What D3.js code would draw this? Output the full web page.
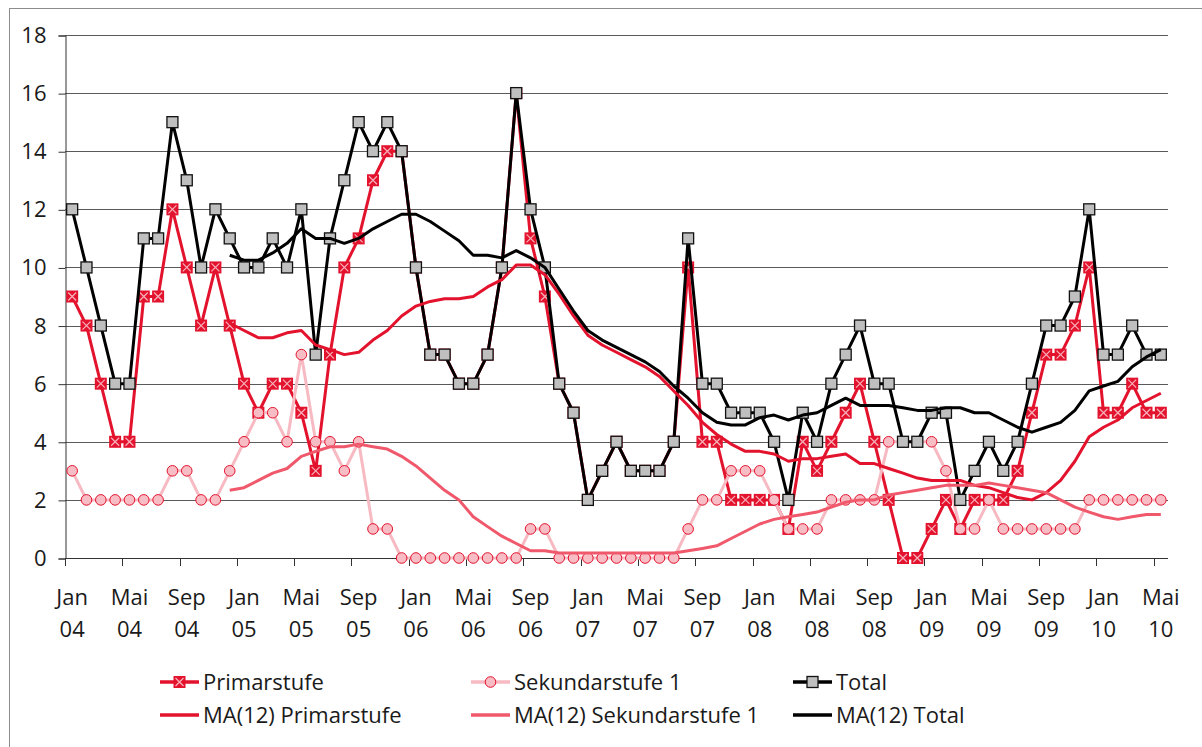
<!DOCTYPE html>
<html>
<head>
<meta charset="utf-8">
<script src="https://cdn.jsdelivr.net/npm/d3@7"></script>
<style>
  body { margin: 0; background: #fff; }
  svg text { font-family: "Open Sans", "Noto Sans", sans-serif; fill: #1a1a1a; }
</style>
</head>
<body>
<div id="chart"></div>
<script>
// monthly categories Jan 04 .. Mai 10
var months = ["Jan","Feb","Mär","Apr","Mai","Jun","Jul","Aug","Sep","Okt","Nov","Dez"];
var years = ["04","05","06","07","08","09","10"];
var nMonths = 77;

var primar = [9,8,6,4,4,9,9,12,10,8,10,8,
  6,5,6,6,5,3,7,10,11,13,14,14,
  10,7,7,6,6,7,10,16,11,9,6,5,
  2,3,4,3,3,3,4,10,4,4,2,2,
  2,2,1,4,3,4,5,6,4,2,0,0,
  1,2,1,2,2,2,3,5,7,7,8,10,
  5,5,6,5,5];
var sekundar = [3,2,2,2,2,2,2,3,3,2,2,3,
  4,5,5,4,7,4,4,3,4,1,1,0,
  0,0,0,0,0,0,0,0,1,1,0,0,
  0,0,0,0,0,0,0,1,2,2,3,3,
  3,2,1,1,1,2,2,2,2,4,4,4,
  4,3,1,1,2,1,1,1,1,1,1,2,
  2,2,2,2,2];
var total = [12,10,8,6,6,11,11,15,13,10,12,11,
  10,10,11,10,12,7,11,13,15,14,15,14,
  10,7,7,6,6,7,10,16,12,10,6,5,
  2,3,4,3,3,3,4,11,6,6,5,5,
  5,4,2,5,4,6,7,8,6,6,4,4,
  5,5,2,3,4,3,4,6,8,8,9,12,
  7,7,8,7,7];

var _ = null;
var maPrimar = [_,_,_,_,_,_,_,_,_,_,_,8.08,
  7.83,7.58,7.58,7.75,7.83,7.33,7.17,7.0,7.08,7.5,7.83,8.33,
  8.67,8.83,8.92,8.92,9.0,9.33,9.58,10.08,10.08,9.75,9.08,8.33,
  7.67,7.33,7.08,6.83,6.58,6.25,5.75,5.25,4.67,4.25,3.92,3.67,
  3.67,3.58,3.33,3.42,3.42,3.5,3.58,3.25,3.25,3.08,2.92,2.75,
  2.67,2.67,2.67,2.5,2.42,2.25,2.08,2.0,2.25,2.67,3.33,4.17,
  4.5,4.75,5.17,5.42,5.67];
var maSekundar = [_,_,_,_,_,_,_,_,_,_,_,2.33,
  2.42,2.67,2.92,3.08,3.5,3.67,3.83,3.83,3.92,3.83,3.75,3.5,
  3.17,2.75,2.33,2.0,1.42,1.08,0.75,0.5,0.25,0.25,0.17,0.17,
  0.17,0.17,0.17,0.17,0.17,0.17,0.17,0.25,0.33,0.42,0.67,0.92,
  1.17,1.33,1.42,1.5,1.58,1.75,1.92,2.0,2.0,2.17,2.25,2.33,
  2.42,2.5,2.5,2.5,2.58,2.5,2.42,2.33,2.25,2.0,1.75,1.58,
  1.42,1.33,1.42,1.5,1.5];
var maTotal = [_,_,_,_,_,_,_,_,_,_,_,10.42,
  10.25,10.25,10.5,10.83,11.33,11.0,11.0,10.83,11.0,11.33,11.58,11.83,
  11.83,11.58,11.25,10.92,10.42,10.42,10.33,10.58,10.33,10.0,9.25,8.5,
  7.83,7.5,7.25,7.0,6.75,6.42,5.92,5.5,5.0,4.67,4.58,4.58,
  4.83,4.92,4.75,4.92,5.0,5.25,5.5,5.25,5.25,5.25,5.17,5.08,
  5.08,5.17,5.17,5.0,5.0,4.75,4.5,4.33,4.5,4.67,5.08,5.75,
  5.92,6.08,6.58,6.92,7.17];

var yTicks = [0,2,4,6,8,10,12,14,16,18];

var categories = [];
for (var i = 0; i < nMonths; i++) {
  categories.push(months[i % 12] + " " + years[Math.floor(i / 12)]);
}

var colPrim = "#e3122d", colSek = "#f7b9c2", colMaSek = "#f0596b";
var fs = "22px";

var width = 1202, height = 747;
var svg = d3.select("#chart").append("svg")
  .attr("width", width).attr("height", height);

// outer frame of the chart area
svg.append("rect")
  .attr("x", 9.5).attr("y", 8.5)
  .attr("width", 1250).attr("height", 800)
  .attr("fill", "none").attr("stroke", "#8c8c8c").attr("stroke-width", 1);

var x = d3.scaleBand().domain(d3.range(nMonths)).range([65, 1168]);
var y = d3.scaleLinear().domain([0, 18]).range([558, 35]);
var cx = function(i) { return x(i) + x.bandwidth() / 2; };

// gridlines
svg.append("g").selectAll("line").data(yTicks.slice(1)).enter().append("line")
  .attr("x1", 65).attr("x2", 1168)
  .attr("y1", function(d) { return Math.round(y(d)) + 0.5; })
  .attr("y2", function(d) { return Math.round(y(d)) + 0.5; })
  .attr("stroke", "#5a5a5a").attr("stroke-width", 1);

// y axis
var yAxis = svg.append("g").attr("transform", "translate(65.5,0.5)")
  .call(d3.axisLeft(y).tickValues(yTicks).tickSize(7).tickPadding(12));
yAxis.selectAll("path, line").attr("stroke", "#333");
yAxis.selectAll("text").style("font-size", fs).attr("fill", "#1a1a1a");

// x axis: ticks on category boundaries every 4 months
var xg = svg.append("g");
xg.append("line").attr("x1", 65).attr("x2", 1168)
  .attr("y1", 558.5).attr("y2", 558.5).attr("stroke", "#333");
var tickIdx = d3.range(0, nMonths, 4);
xg.selectAll(".tk").data(tickIdx).enter().append("line")
  .attr("class", "tk")
  .attr("x1", function(d) { return Math.round(x(d)) + 0.5; })
  .attr("x2", function(d) { return Math.round(x(d)) + 0.5; })
  .attr("y1", 558).attr("y2", 566).attr("stroke", "#333");
var lbl = xg.selectAll(".lb").data(tickIdx).enter().append("text")
  .attr("class", "lb").attr("text-anchor", "middle")
  .style("font-size", fs);
lbl.append("tspan").attr("x", function(d) { return cx(d); }).attr("y", 605)
  .text(function(d) { return categories[d].split(" ")[0]; });
lbl.append("tspan").attr("x", function(d) { return cx(d); }).attr("y", 637)
  .text(function(d) { return categories[d].split(" ")[1]; });

var line = d3.line()
  .defined(function(d) { return d != null; })
  .x(function(d, i) { return cx(i); })
  .y(function(d) { return y(d); });

function drawLine(data, color, w) {
  svg.append("path").datum(data)
    .attr("d", line).attr("fill", "none")
    .attr("stroke", color).attr("stroke-width", w)
    .attr("stroke-linejoin", "round");
}

function primMarker(g, px, py) {
  g.append("rect").attr("x", px - 6).attr("y", py - 6)
    .attr("width", 12).attr("height", 12).attr("fill", colPrim);
  g.append("path")
    .attr("d", "M" + (px - 4) + "," + (py - 4) + "L" + (px + 4) + "," + (py + 4) +
      "M" + (px + 4) + "," + (py - 4) + "L" + (px - 4) + "," + (py + 4))
    .attr("stroke", "#f7b3bd").attr("stroke-width", 1.2);
}
function sekMarker(g, px, py) {
  g.append("circle").attr("cx", px).attr("cy", py).attr("r", 5.3)
    .attr("fill", "#f8bcc5").attr("stroke", colPrim).attr("stroke-width", 1);
}
function totMarker(g, px, py) {
  g.append("rect").attr("x", px - 5.5).attr("y", py - 5.5)
    .attr("width", 11).attr("height", 11)
    .attr("fill", "#bfbfbf").attr("stroke", "#111").attr("stroke-width", 1.3);
}

// Primarstufe
drawLine(primar, colPrim, 3);
var gp = svg.append("g");
primar.forEach(function(d, i) { primMarker(gp, cx(i), y(d)); });

// Sekundarstufe 1
drawLine(sekundar, colSek, 3);
var gs = svg.append("g");
sekundar.forEach(function(d, i) { sekMarker(gs, cx(i), y(d)); });

// Total
drawLine(total, "#000", 3);
var gt = svg.append("g");
total.forEach(function(d, i) { totMarker(gt, cx(i), y(d)); });

// moving averages
drawLine(maPrimar, colPrim, 3);
drawLine(maSekundar, colMaSek, 3);
drawLine(maTotal, "#000", 3);

// legend
var legend = [
  { name: "Primarstufe", x: 160, y: 682, color: colPrim, mk: primMarker },
  { name: "Sekundarstufe 1", x: 471, y: 682, color: colSek, mk: sekMarker },
  { name: "Total", x: 793, y: 682, color: "#000", mk: totMarker },
  { name: "MA(12) Primarstufe", x: 160, y: 715, color: colPrim, mk: null },
  { name: "MA(12) Sekundarstufe 1", x: 471, y: 715, color: colMaSek, mk: null },
  { name: "MA(12) Total", x: 793, y: 715, color: "#000", mk: null }
];
var lg = svg.append("g");
legend.forEach(function(d) {
  lg.append("line").attr("x1", d.x).attr("x2", d.x + 39)
    .attr("y1", d.y).attr("y2", d.y)
    .attr("stroke", d.color).attr("stroke-width", 3.5);
  if (d.mk) d.mk(lg, d.x + 19.5, d.y);
  lg.append("text").attr("x", d.x + 43).attr("y", d.y + 8)
    .style("font-size", fs).text(d.name);
});
</script>
</body>
</html>
